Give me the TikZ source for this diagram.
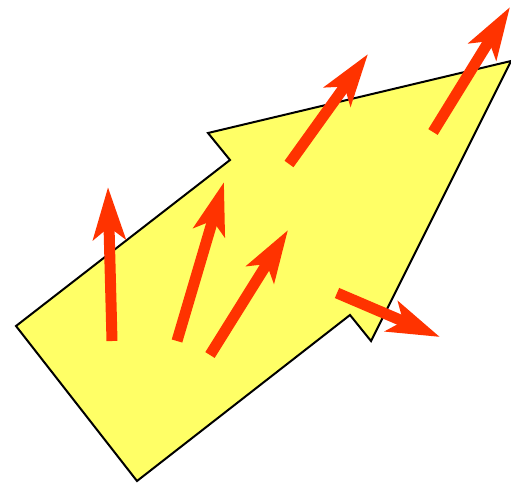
\documentclass[tikz,border=0pt]{standalone}
\usetikzlibrary{arrows.meta}
\definecolor{fillyellow}{RGB}{255,255,102}
\definecolor{arrowred}{RGB}{255,51,0}
\tikzset{
  bigshape/.style={draw=black, line width=2pt, fill=fillyellow, line join=miter},
  redarrow/.style={draw=arrowred, line width=11pt, line cap=butt,
    -{Stealth[length=52pt, width=32pt, inset=12pt, fill=arrowred]}}
}
\begin{document}
\begin{tikzpicture}[x=1pt,y=-1pt]
\useasboundingbox (0,0) rectangle (511,483);
\draw[bigshape] (16,326) -- (137,481) -- (350,315) -- (371,341) -- (511,61) -- (208,133) -- (230,160) -- cycle;
\coordinate (t1) at (112,341); \coordinate (h1) at (108,187);
\coordinate (t2) at (177,341); \coordinate (h2) at (224,182);
\coordinate (t3) at (210,355); \coordinate (h3) at (288,230);
\coordinate (t4) at (289,164); \coordinate (h4) at (368,54);
\coordinate (t5) at (433,132); \coordinate (h5) at (510,7);
\coordinate (t6) at (337,293); \coordinate (h6) at (440,337);
\foreach \i in {1,...,6} { \draw[redarrow] (t\i) -- (h\i); }
\end{tikzpicture}
\end{document}
